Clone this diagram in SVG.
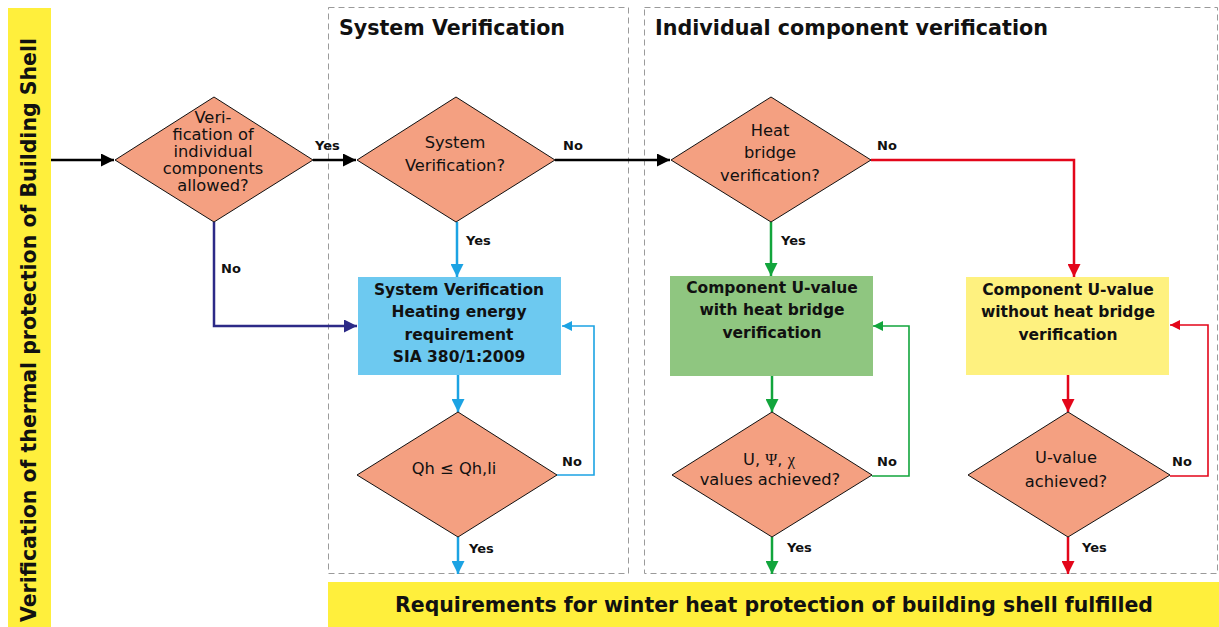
<svg xmlns="http://www.w3.org/2000/svg" width="1219" height="627" viewBox="0 0 1219 627">
<style>
  text { font-family: "DejaVu Sans", "Liberation Sans", sans-serif; fill: #111; }
  .dtxt { font-size: 16.3px; text-anchor: middle; }
  .btxt { font-size: 15.5px; font-weight: bold; text-anchor: middle; }
  .lbl { font-size: 13px; font-weight: bold; }
  .title { font-size: 20.5px; font-weight: bold; }
  .big { font-size: 21px; font-weight: bold; }
  .diamond { fill: #F4A081; stroke: #111; stroke-width: 1; }
  .panel { fill: none; stroke: #9a9a9a; stroke-width: 1; stroke-dasharray: 6 4; }
  .bar { fill: #FFEF3C; }
  .c { fill: none; stroke-width: 2.5; }
  .fb { fill: none; stroke-width: 1.6; }
  .k { stroke: #000; }
  .cy { stroke: #1CA3E3; }
  .gr { stroke: #12A53C; }
  .rd { stroke: #E3061A; }
  .pu { stroke: #2C2A87; }
</style>
<defs>
  <marker id="aK" viewBox="0 0 10 10" refX="10" refY="5" markerWidth="18" markerHeight="13" markerUnits="userSpaceOnUse" orient="auto"><path d="M0,0 L10,5 L0,10 z" fill="#000"/></marker>
  <marker id="aC" viewBox="0 0 10 10" refX="10" refY="5" markerWidth="18" markerHeight="13" markerUnits="userSpaceOnUse" orient="auto"><path d="M0,0 L10,5 L0,10 z" fill="#1CA3E3"/></marker>
  <marker id="aG" viewBox="0 0 10 10" refX="10" refY="5" markerWidth="18" markerHeight="13" markerUnits="userSpaceOnUse" orient="auto"><path d="M0,0 L10,5 L0,10 z" fill="#12A53C"/></marker>
  <marker id="aR" viewBox="0 0 10 10" refX="10" refY="5" markerWidth="18" markerHeight="13" markerUnits="userSpaceOnUse" orient="auto"><path d="M0,0 L10,5 L0,10 z" fill="#E3061A"/></marker>
  <marker id="aP" viewBox="0 0 10 10" refX="10" refY="5" markerWidth="18" markerHeight="13" markerUnits="userSpaceOnUse" orient="auto"><path d="M0,0 L10,5 L0,10 z" fill="#2C2A87"/></marker>
  <marker id="sC" viewBox="0 0 10 10" refX="10" refY="5" markerWidth="16" markerHeight="10" markerUnits="userSpaceOnUse" orient="auto"><path d="M0,0 L10,5 L0,10 z" fill="#1CA3E3"/></marker>
  <marker id="sG" viewBox="0 0 10 10" refX="10" refY="5" markerWidth="16" markerHeight="10" markerUnits="userSpaceOnUse" orient="auto"><path d="M0,0 L10,5 L0,10 z" fill="#12A53C"/></marker>
  <marker id="sR" viewBox="0 0 10 10" refX="10" refY="5" markerWidth="16" markerHeight="10" markerUnits="userSpaceOnUse" orient="auto"><path d="M0,0 L10,5 L0,10 z" fill="#E3061A"/></marker>
</defs>
<rect width="1219" height="627" fill="#fff"/>

<g id="left-bar">
  <rect class="bar" x="8" y="8" width="43" height="619"/>
  <text class="big" transform="translate(36,622) rotate(-90)" font-size="22" textLength="584" lengthAdjust="spacingAndGlyphs">Verification of thermal protection of Building Shell</text>
</g>

<g id="panel-system">
  <rect class="panel" x="328.5" y="7.5" width="300" height="566"/>
  <text class="title" x="339" y="35" textLength="226" lengthAdjust="spacingAndGlyphs">System Verification</text>
</g>

<g id="panel-individual">
  <rect class="panel" x="644.5" y="7.5" width="573" height="566"/>
  <text class="title" x="655" y="35" textLength="393" lengthAdjust="spacingAndGlyphs">Individual component verification</text>
</g>

<g id="result-bar">
  <rect class="bar" x="328" y="582" width="891" height="45"/>
  <text class="big" x="395" y="612" textLength="758" lengthAdjust="spacingAndGlyphs">Requirements for winter heat protection of building shell fulfilled</text>
</g>

<g id="connectors">
  <line class="c k" x1="51" y1="160" x2="114" y2="160" marker-end="url(#aK)"/>
  <line class="c k" x1="313" y1="160" x2="356" y2="160" marker-end="url(#aK)"/>
  <line class="c k" x1="555" y1="160" x2="670" y2="160" marker-end="url(#aK)"/>
  <polyline class="c pu" points="214,222 214,326 357,326" marker-end="url(#aP)"/>
  <line class="c cy" x1="457" y1="222" x2="457" y2="277" marker-end="url(#aC)"/>
  <line class="c cy" x1="458" y1="375" x2="458" y2="412" marker-end="url(#aC)"/>
  <line class="c cy" x1="458" y1="537" x2="458" y2="574" marker-end="url(#aC)"/>
  <polyline class="fb cy" points="557,475 594,475 594,326 562,326" marker-end="url(#sC)"/>
  <line class="c gr" x1="771" y1="222" x2="771" y2="276" marker-end="url(#aG)"/>
  <line class="c gr" x1="772" y1="376" x2="772" y2="412" marker-end="url(#aG)"/>
  <line class="c gr" x1="772" y1="537" x2="772" y2="574" marker-end="url(#aG)"/>
  <polyline class="fb gr" points="872,476 909,476 909,326 873,326" marker-end="url(#sG)"/>
  <polyline class="c rd" points="871,160 1074,160 1074,277" marker-end="url(#aR)"/>
  <line class="c rd" x1="1068" y1="375" x2="1068" y2="412" marker-end="url(#aR)"/>
  <line class="c rd" x1="1068" y1="537" x2="1068" y2="574" marker-end="url(#aR)"/>
  <polyline class="fb rd" points="1170,476 1208,476 1208,325 1170,325" marker-end="url(#sR)"/>
  <text class="lbl" x="315" y="150">Yes</text>
  <text class="lbl" x="221" y="273">No</text>
  <text class="lbl" x="563" y="150">No</text>
  <text class="lbl" x="466" y="245">Yes</text>
  <text class="lbl" x="877" y="150">No</text>
  <text class="lbl" x="781" y="245">Yes</text>
  <text class="lbl" x="562" y="466">No</text>
  <text class="lbl" x="469" y="553">Yes</text>
  <text class="lbl" x="877" y="466">No</text>
  <text class="lbl" x="787" y="552">Yes</text>
  <text class="lbl" x="1172" y="466">No</text>
  <text class="lbl" x="1082" y="552">Yes</text>
</g>

<g id="d-allowed">
  <polygon class="diamond" points="214,97 313,160 214,222 115,160"/>
  <text class="dtxt" x="213" y="123" font-size="14">Veri-</text>
  <text class="dtxt" x="213" y="140" font-size="14">fication of</text>
  <text class="dtxt" x="213" y="157" font-size="14">individual</text>
  <text class="dtxt" x="213" y="174" font-size="14">components</text>
  <text class="dtxt" x="213" y="191" font-size="14">allowed?</text>
</g>

<g id="d-system">
  <polygon class="diamond" points="456,97 555,160 456,222 357,160"/>
  <text class="dtxt" x="455" y="148">System</text>
  <text class="dtxt" x="455" y="171">Verification?</text>
</g>

<g id="d-heatbridge">
  <polygon class="diamond" points="771,97 871,160 771,222 671,160"/>
  <text class="dtxt" x="770" y="136">Heat</text>
  <text class="dtxt" x="770" y="158">bridge</text>
  <text class="dtxt" x="770" y="181">verification?</text>
</g>

<g id="box-system">
  <rect x="358" y="277" width="203" height="98" fill="#6DC9F0"/>
  <text class="btxt" x="459" y="295">System Verification</text>
  <text class="btxt" x="459" y="317">Heating energy</text>
  <text class="btxt" x="459" y="340">requirement</text>
  <text class="btxt" x="459" y="362">SIA 380/1:2009</text>
</g>

<g id="box-with-bridge">
  <rect x="670" y="276" width="203" height="100" fill="#8FC680"/>
  <text class="btxt" x="772" y="293">Component U-value</text>
  <text class="btxt" x="772" y="315">with heat bridge</text>
  <text class="btxt" x="772" y="338">verification</text>
</g>

<g id="box-without-bridge">
  <rect x="966" y="277" width="203" height="98" fill="#FEF17F"/>
  <text class="btxt" x="1068" y="295">Component U-value</text>
  <text class="btxt" x="1068" y="317">without heat bridge</text>
  <text class="btxt" x="1068" y="340">verification</text>
</g>

<g id="d-qh">
  <polygon class="diamond" points="458,412 557,475 458,537 357,475"/>
  <text class="dtxt" x="454" y="474">Qh ≤ Qh,li</text>
</g>

<g id="d-upsichi">
  <polygon class="diamond" points="772,412 872,475 772,537 672,475"/>
  <text class="dtxt" x="769" y="465">U, <tspan font-family="Liberation Serif, serif">Ψ</tspan>, <tspan font-family="Liberation Serif, serif">χ</tspan></text>
  <text class="dtxt" x="770" y="485" font-size="15.4">values achieved?</text>
</g>

<g id="d-uvalue">
  <polygon class="diamond" points="1068,412 1170,475 1068,537 968,475"/>
  <text class="dtxt" x="1066" y="463">U-value</text>
  <text class="dtxt" x="1066" y="487">achieved?</text>
</g>
</svg>
